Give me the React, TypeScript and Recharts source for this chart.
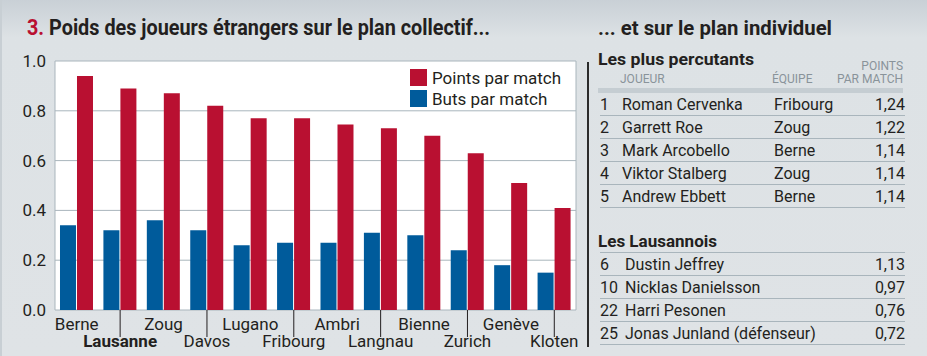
import React from "react";
import { BarChart, Bar, XAxis, YAxis, CartesianGrid, Legend } from "recharts";

const teams = ["Berne", "Lausanne", "Zoug", "Davos", "Lugano", "Fribourg", "Ambri", "Langnau", "Bienne", "Zurich", "Genève", "Kloten"];
const butsParMatch = [0.34, 0.32, 0.36, 0.32, 0.26, 0.27, 0.27, 0.31, 0.30, 0.24, 0.18, 0.15];
const pointsParMatch = [0.94, 0.89, 0.87, 0.82, 0.77, 0.77, 0.745, 0.73, 0.70, 0.63, 0.51, 0.41];
const yTicks = [0, 0.2, 0.4, 0.6, 0.8, 1.0];

const topRanks = ["1", "2", "3", "4", "5"];
const topNames = ["Roman Cervenka", "Garrett Roe", "Mark Arcobello", "Viktor Stalberg", "Andrew Ebbett"];
const topTeams = ["Fribourg", "Zoug", "Berne", "Zoug", "Berne"];
const topValues = ["1,24", "1,22", "1,14", "1,14", "1,14"];

const lsRanks = ["6", "10", "22", "25"];
const lsNames = ["Dustin Jeffrey", "Nicklas Danielsson", "Harri Pesonen", "Jonas Junland (défenseur)"];
const lsValues = ["1,13", "0,97", "0,76", "0,72"];

const RED = "#b91031";
const BLUE = "#005b9b";
const INK = "#231f20";
const GRID = "#a9b5bc";
const FONT = "Roboto, sans-serif";

const data = teams.map((team, i) => ({
  team,
  buts: butsParMatch[i],
  points: pointsParMatch[i],
}));

const TeamTick = (props: any) => {
  const { x, y, payload, index } = props;
  const odd = index % 2 === 1;
  return (
    <g>
      {odd && <line x1={x} x2={x} y1={y} y2={y + 27} stroke={INK} strokeWidth={1} />}
      <text
        x={x}
        y={odd ? y + 37 : y + 20}
        textAnchor="middle"
        fill={INK}
        fontSize={17}
        fontFamily={FONT}
        fontWeight={payload.value === "Lausanne" ? 700 : 400}
      >
        {payload.value}
      </text>
    </g>
  );
};

const LegendBox = (props: any) => {
  const items = [...(props.payload || [])].reverse();
  return (
    <div style={{ fontFamily: FONT, fontSize: 17, color: INK }}>
      {items.map((it: any) => (
        <div key={it.value} style={{ display: "flex", alignItems: "center", height: 21 }}>
          <span style={{ width: 17, height: 17, background: it.color, marginRight: 5, display: "inline-block" }} />
          {it.value}
        </div>
      ))}
    </div>
  );
};

const Row = ({ top, cells }: { top: number; cells: { text: string; x: number; right?: boolean }[] }) => (
  <div style={{ position: "absolute", left: 598, top, width: 305, height: 22, borderBottom: `1px solid ${GRID}` }}>
    {cells.map((c, i) => (
      <div
        key={i}
        style={{
          position: "absolute",
          top: 0,
          lineHeight: "23px",
          ...(c.right ? { right: 0 } : { left: c.x }),
        }}
      >
        {c.text}
      </div>
    ))}
  </div>
);

export default function App() {
  return (
    <div
      style={{
        position: "absolute",
        left: 0,
        top: 0,
        width: 927,
        height: 356,
        overflow: "hidden",
        background: "linear-gradient(#c9d0d6 0px, #dde2e5 38px, #dfe3e6 356px)",
        borderLeft: "2px solid #c8cfd4",
        boxSizing: "border-box",
        fontFamily: FONT,
        color: INK,
      }}
    >
      <svg width={927} height={50} style={{ position: "absolute", left: -2, top: 0 }}>
        <text x={27} y={35} fontSize={22} fontWeight={700} fontFamily={FONT} fill={INK} textLength={463} lengthAdjust="spacingAndGlyphs">
          <tspan fill={RED}>3.</tspan> Poids des joueurs étrangers sur le plan collectif...
        </text>
        <text x={598} y={35} fontSize={21} fontWeight={700} fontFamily={FONT} fill={INK} textLength={234} lengthAdjust="spacingAndGlyphs">
          ... et sur le plan individuel
        </text>
      </svg>

      <div style={{ position: "absolute", left: -2, top: 0 }}>
        <BarChart
          width={590}
          height={356}
          data={data}
          margin={{ top: 61, right: 14, left: 0, bottom: 0 }}
          barCategoryGap="11.5%"
          barGap={1}
        >
          <CartesianGrid
            stroke={GRID}
            fill="#ffffff"
            fillOpacity={1}
            verticalCoordinatesGenerator={({ offset }: any) => [offset.left, offset.left + offset.width]}
          />
          <YAxis
            domain={[0, 1]}
            ticks={yTicks}
            width={55}
            axisLine={false}
            tickLine={false}
            tickSize={0}
            tickMargin={9}
            tickFormatter={(v: number) => v.toFixed(1)}
            tick={{ fill: INK, fontSize: 17, fontFamily: FONT }}
          />
          <XAxis
            dataKey="team"
            height={46}
            axisLine={false}
            tickLine={false}
            tickSize={0}
            tickMargin={0}
            interval={0}
            tick={<TeamTick />}
          />
          <Legend
            layout="vertical"
            verticalAlign="middle"
            align="center"
            content={<LegendBox />}
            wrapperStyle={{ position: "absolute", left: 410, top: 67, width: 170, height: 44 }}
          />
          <Bar dataKey="buts" name="Buts par match" fill={BLUE} isAnimationActive={false} />
          <Bar dataKey="points" name="Points par match" fill={RED} isAnimationActive={false} />
        </BarChart>
      </div>

      <div style={{ position: "absolute", left: 585, top: 62, width: 2, height: 285, background: "#2b2b2b" }} />

      <div style={{ position: "absolute", left: 0, top: 0, fontSize: 16 }}>
        <svg width={927} height={356} style={{ position: "absolute", left: -2, top: 0 }}>
          <text x={598} y={65} fontSize={17} fontWeight={700} fontFamily={FONT} fill={INK} textLength={156} lengthAdjust="spacingAndGlyphs">
            Les plus percutants
          </text>
          <text x={598} y={247} fontSize={17} fontWeight={700} fontFamily={FONT} fill={INK} textLength={119} lengthAdjust="spacingAndGlyphs">
            Les Lausannois
          </text>
          <g fontSize={12} fontFamily={FONT} fill="#89939a">
            <text x={903} y={70} textAnchor="end">POINTS</text>
            <text x={903} y={83} textAnchor="end">PAR MATCH</text>
            <text x={620} y={83}>JOUEUR</text>
            <text x={772} y={83}>ÉQUIPE</text>
          </g>
          <rect x={598} y={88} width={305} height={5} fill="#c5cdd2" />
        </svg>

        {topNames.map((name, i) => (
          <Row
            key={name}
            top={93 + i * 23}
            cells={[
              { text: topRanks[i], x: 0 },
              { text: name, x: 22 },
              { text: topTeams[i], x: 174 },
              { text: topValues[i], x: 0, right: true },
            ]}
          />
        ))}

        <div style={{ position: "absolute", left: 598, top: 252, width: 305, height: 1, background: GRID }} />
        {lsNames.map((name, i) => (
          <Row
            key={name}
            top={253 + i * 23}
            cells={[
              { text: lsRanks[i], x: 0 },
              { text: name, x: 25 },
              { text: lsValues[i], x: 0, right: true },
            ]}
          />
        ))}
      </div>
    </div>
  );
}
